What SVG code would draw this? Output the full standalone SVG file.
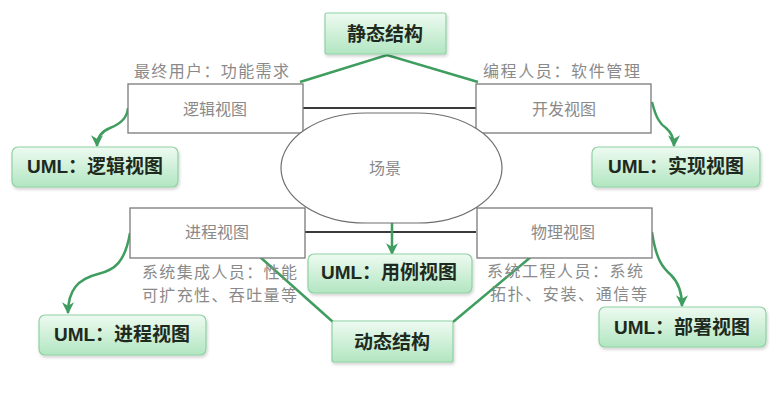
<svg xmlns="http://www.w3.org/2000/svg" width="782" height="407" viewBox="0 0 782 407">
<defs>
<linearGradient id="g" x1="0" y1="0" x2="0" y2="1">
<stop offset="0" stop-color="#eefaf1"/>
<stop offset="1" stop-color="#b2e6c1"/>
</linearGradient>
<filter id="sh" x="-10%" y="-20%" width="125%" height="150%">
<feDropShadow dx="1" dy="2" stdDeviation="1.5" flood-color="#000" flood-opacity="0.18"/>
</filter>
<marker id="ah" viewBox="0 0 10 10" refX="9" refY="5" markerWidth="12" markerHeight="12" markerUnits="userSpaceOnUse" orient="auto">
<path d="M0,0 L10,5 L0,10 L3,5 z" fill="#3f9d5f"/>
</marker>
<style>
.view{fill:#fff;stroke:#7a7a7a;stroke-width:1.3}
.vt{font-family:"Noto Sans CJK SC",sans-serif;font-size:16px;fill:#8a8a8a;text-anchor:middle}
.lt{font-family:"Noto Sans CJK SC",sans-serif;font-size:16px;fill:#8a8a8a}
.gb{fill:url(#g);stroke:#8fd1a3;stroke-width:1.2;filter:url(#sh)}
.bt{font-family:"Liberation Sans","Noto Sans CJK SC",sans-serif;font-size:19px;font-weight:bold;fill:#1e2a20;text-anchor:middle}
.c{fill:none;stroke:#3f9d5f;stroke-width:2.5}
.dl{stroke:#3a3a3a;stroke-width:2.2}
</style>
</defs>
<rect width="782" height="407" fill="#fff"/>

<g id="connectors">
<line class="dl" x1="303" y1="108" x2="476" y2="108"/>
<line class="dl" x1="305" y1="232" x2="476" y2="232"/>
<polyline class="c" points="300,82 387,55 478,82"/>
<line class="c" x1="260" y1="257" x2="333" y2="322"/>
<line class="c" x1="532" y1="256" x2="453" y2="322"/>
<path class="c" d="M128,108 C127,120 118,125 110,128 C100,132 97,138 97,146" marker-end="url(#ah)"/>
<path class="c" d="M652,102 C656,118 660,124 666,128 C672,133 674,138 674,146" marker-end="url(#ah)"/>
<path class="c" d="M130,233 C125,262 115,270 98,274 C78,279 68,290 68,313" marker-end="url(#ah)"/>
<path class="c" d="M652,232 C656,260 663,268 671,275 C679,283 682,292 682,306" marker-end="url(#ah)"/>
<line class="c" x1="392" y1="182" x2="392" y2="254" marker-end="url(#ah)"/>
</g>

<g id="logical-view">
<rect class="view" x="128" y="84" width="175" height="49"/>
<text class="vt" x="215" y="115">逻辑视图</text>
</g>
<g id="development-view">
<rect class="view" x="476" y="84" width="175" height="49"/>
<text class="vt" x="564" y="115">开发视图</text>
</g>
<g id="process-view">
<rect class="view" x="130" y="208" width="175" height="50"/>
<text class="vt" x="217" y="238">进程视图</text>
</g>
<g id="physical-view">
<rect class="view" x="477" y="208" width="175" height="50"/>
<text class="vt" x="563" y="238">物理视图</text>
</g>
<g id="scenario">
<rect x="281" y="113" width="221" height="110" rx="85" ry="55" fill="#fff" stroke="#6e6e6e" stroke-width="1.2"/>
<text class="vt" x="385" y="174">场景</text>
</g>

<g id="label-end-user"><text class="lt" x="134" y="77" textLength="155">最终用户：功能需求</text></g>
<g id="label-programmer"><text class="lt" x="483" y="77" textLength="157">编程人员：软件管理</text></g>
<g id="label-integrator">
<text class="lt" x="142" y="278" textLength="155">系统集成人员：性能</text>
<text class="lt" x="142" y="301" textLength="155">可扩充性、吞吐量等</text>
</g>
<g id="label-engineer">
<text class="lt" x="487" y="277" textLength="156">系统工程人员：系统</text>
<text class="lt" x="490" y="300" textLength="157">拓扑、安装、通信等</text>
</g>

<g id="static-structure">
<rect class="gb" x="325" y="13" width="121" height="41" rx="2"/>
<text class="bt" x="385" y="41">静态结构</text>
</g>
<g id="dynamic-structure">
<rect class="gb" x="332" y="321" width="121" height="41" rx="2"/>
<text class="bt" x="392" y="349">动态结构</text>
</g>
<g id="uml-logical">
<rect class="gb" x="12" y="147" width="166" height="40" rx="6"/>
<text class="bt" x="95" y="173">UML：逻辑视图</text>
</g>
<g id="uml-implementation">
<rect class="gb" x="592" y="147" width="168" height="40" rx="6"/>
<text class="bt" x="676" y="173">UML：实现视图</text>
</g>
<g id="uml-usecase">
<rect class="gb" x="308" y="254" width="164" height="39" rx="6"/>
<text class="bt" x="389" y="279">UML：用例视图</text>
</g>
<g id="uml-process">
<rect class="gb" x="39" y="315" width="167" height="40" rx="6"/>
<text class="bt" x="122" y="341">UML：进程视图</text>
</g>
<g id="uml-deployment">
<rect class="gb" x="599" y="307" width="167" height="40" rx="6"/>
<text class="bt" x="682" y="334">UML：部署视图</text>
</g>
</svg>
